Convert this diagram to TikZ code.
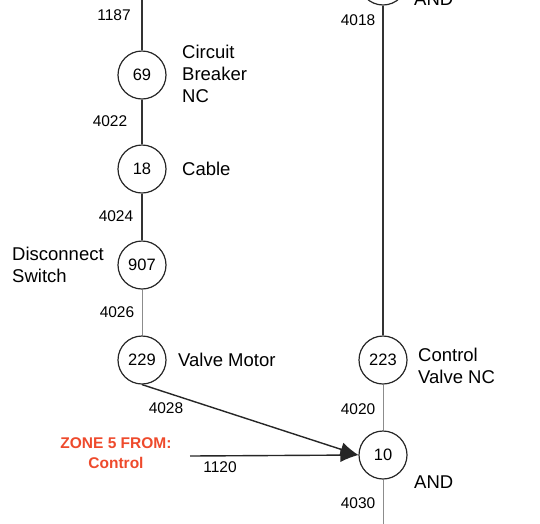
\documentclass[tikz,border=0pt]{standalone}
\usepackage{fontspec}
\setmainfont{Liberation Sans}
\usetikzlibrary{arrows.meta}
\definecolor{zonered}{HTML}{EE4A2C}
\begin{document}
\begin{tikzpicture}[x=1pt,y=-1pt,
  evt/.style={circle,draw=black!85,line width=1.2pt,minimum size=48pt,inner sep=0pt,font=\fontsize{16.5}{18}\selectfont},
  lbl/.style={font=\fontsize{18.5}{22}\selectfont,align=left,anchor=west,inner sep=0pt},
  num/.style={font=\fontsize{15.5}{17}\selectfont,inner sep=0pt},
  dark/.style={draw=black!80,line width=1.1pt},
  light/.style={draw=black!45,line width=0.9pt},
  arr/.style={draw=black!85,line width=1.4pt,-{Latex[length=18pt,width=14pt]}}]
\useasboundingbox (0,0) rectangle (540,523);
% left column
\coordinate (ltop) at (142,-2);
\node[evt] (c69) at (142,75) {69};
\node[evt] (c18) at (142,169) {18};
\node[evt] (c907) at (142,265) {907};
\node[evt] (c229) at (142,360) {229};
% right column
\node[evt] (ctop) at (383,-19) {};
\node[evt] (c223) at (383,360) {223};
\node[evt] (c10) at (383,455) {10};
\coordinate (rbot) at (383,525);
\coordinate (zsrc) at (190,456);
% connectors
\draw[dark] (ltop) -- (c69);
\draw[dark] (c69) -- (c18);
\draw[dark] (c18) -- (c907);
\draw[light] (c907) -- (c229);
\draw[dark] (ctop) -- (c223);
\draw[light] (c223) -- (c10);
\draw[light] (c10) -- (rbot);
\draw[arr] (c229.south) -- (c10.west);
\draw[arr] (zsrc) -- (c10.west);
% labels
\node[num] (n1187) at (114,15) {1187};
\node[lbl] (l69) at (182,74) {Circuit\\Breaker\\NC};
\node[num] (n4022) at (110,121) {4022};
\node[lbl] (l18) at (182,169) {Cable};
\node[num] (n4024) at (116,216) {4024};
\node[lbl] (l907) at (12,265) {Disconnect\\Switch};
\node[num] (n4026) at (117,312) {4026};
\node[lbl] (l229) at (178,360) {Valve Motor};
\node[num] (n4028) at (166,408) {4028};
\node[font=\bfseries\fontsize{15.5}{20}\selectfont,text=zonered,align=center,inner sep=0pt] (zone) at (116,453) {ZONE 5 FROM:\\Control};
\node[num] (n1120) at (220,467) {1120};
\node[num] (n4018) at (358,20) {4018};
\node[lbl] (ltop) at (414,-1) {AND};
\node[lbl] (l223) at (418,366) {Control\\Valve NC};
\node[num] (n4020) at (358,409) {4020};
\node[lbl] (l10) at (414,482) {AND};
\node[num] (n4030) at (358,503) {4030};
\end{tikzpicture}
\end{document}
